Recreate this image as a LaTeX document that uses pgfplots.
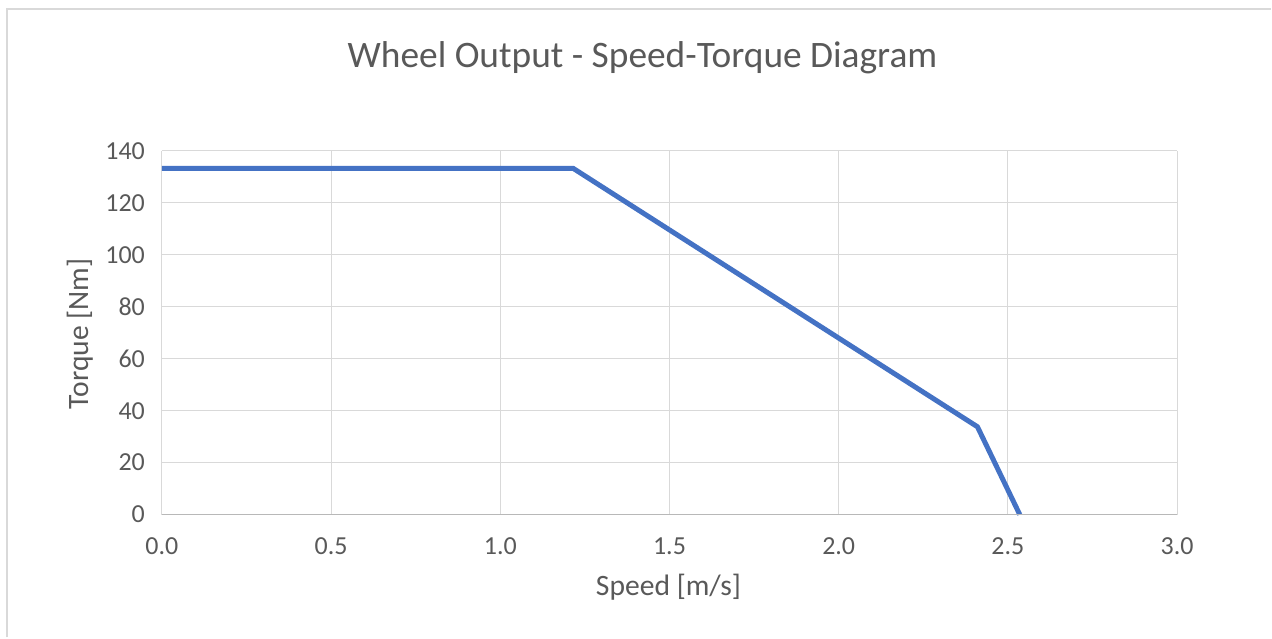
\documentclass[border=0pt]{standalone}
\usepackage{pgfplots}
\pgfplotsset{compat=1.18}
\usepackage{fontspec}
\setmainfont{Carlito}
\definecolor{linecol}{HTML}{4472C4}
\definecolor{gridcol}{HTML}{D9D9D9}
\definecolor{txtcol}{HTML}{595959}
\definecolor{framecol}{HTML}{D9D9D9}
\begin{document}
\begin{tikzpicture}[x=0.5bp,y=0.5bp]
% page: 1272 x 638 px, origin bottom-left, y up
\path (0,0) rectangle (1272,638);
\draw[framecol, line width=1bp] (7.5,0) -- (7.5,628.5) -- (1272,628.5);
\begin{axis}[
  at={(81bp,61.5bp)}, anchor=south west,
  scale only axis, width=508bp, height=182bp,
  xmin=0, xmax=3, ymin=0, ymax=140,
  xtick={0,0.5,...,3}, ytick={0,20,...,140},
  xticklabel style={/pgf/number format/fixed, /pgf/number format/fixed zerofill, /pgf/number format/precision=1, yshift=-8bp},
  /pgf/number format/assume math mode=true,
  tick label style={font=\fontsize{13bp}{15bp}\selectfont, text=txtcol},
  yticklabel style={xshift=-5bp},
  grid=major, major grid style={gridcol, line width=0.5bp},
  axis line style={draw=none},
  tick style={draw=none},
  clip=false,
]
\addplot[draw=linecol, line width=2.5bp, line join=round] coordinates {
  (0,133.3) (1.215,133.3) (2.41,33.8) (2.535,0)
};
\draw[gridcol!85!black, line width=0.8bp] (axis cs:0,0) -- (axis cs:3,0);
\end{axis}
\node[text=txtcol, font=\fontsize{18.7bp}{21bp}\selectfont] at (643,580) {Wheel Output - Speed-Torque Diagram};
\node[text=txtcol, font=\fontsize{14.8bp}{17bp}\selectfont] at (669,50) {Speed [m/s]};
\node[text=txtcol, font=\fontsize{14.8bp}{17bp}\selectfont, rotate=90] at (80,304) {Torque [Nm]};
\end{tikzpicture}
\end{document}
